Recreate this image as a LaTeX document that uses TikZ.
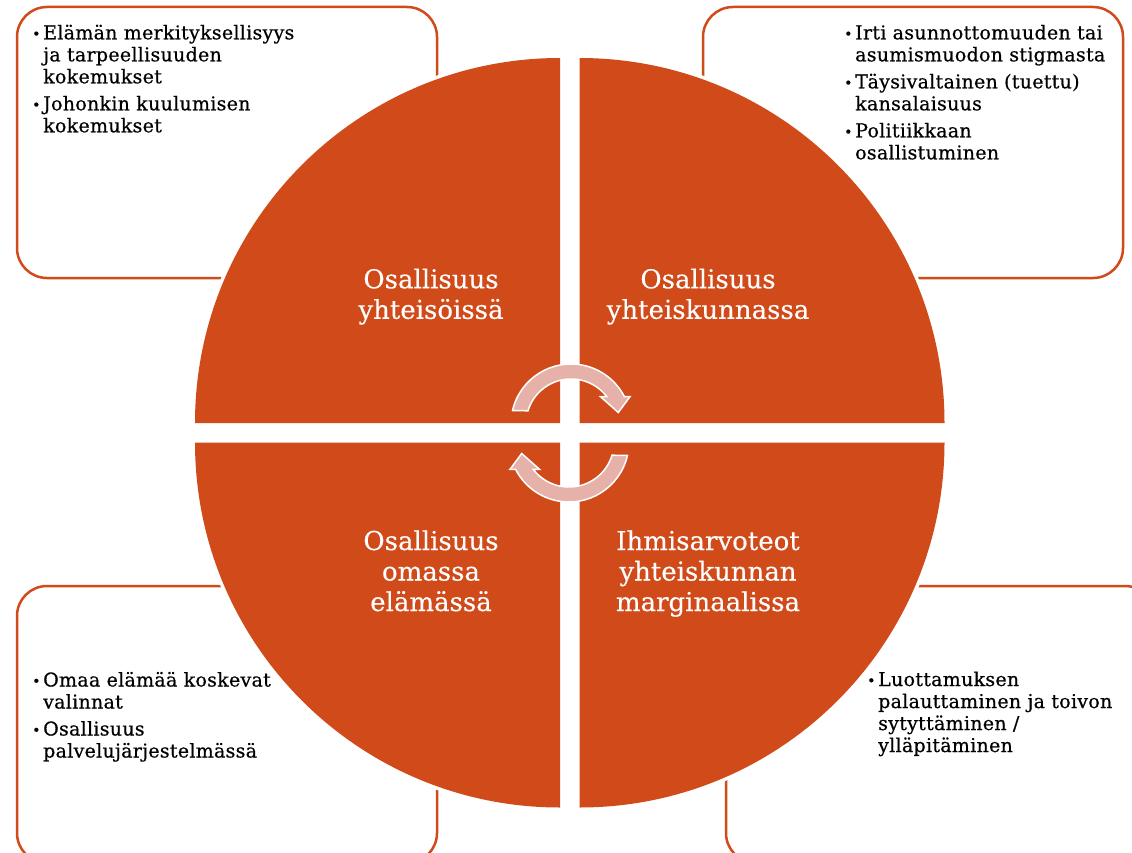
\documentclass[tikz,border=0pt]{standalone}
\usepackage{fontspec}
\setmainfont{DejaVu Serif}[LetterSpace=1.5, FakeBold=0.6]
\newfontfamily\labelfont{DejaVu Serif}[FakeBold=0.3]
\definecolor{quadorange}{HTML}{D14A19}
\definecolor{arrowpink}{HTML}{E6B1A9}
\newcommand{\bul}{\makebox[11pt][l]{\raisebox{0.5pt}{\fontsize{14}{14}\selectfont •}}}
\tikzset{
  infobox/.style={draw=quadorange, line width=2.5pt, rounded corners=30pt},
  quad/.style={fill=quadorange, preaction={draw=white, line width=7pt}},
  infotext/.style={anchor=base west, inner sep=0pt, font=\fontsize{19}{22}\selectfont},
  quadlabel/.style={anchor=base, inner sep=0pt, text=white, font=\labelfont\fontsize{26}{30.5}\selectfont},
  cyclearrow/.style={fill=arrowpink, draw=white, line width=1.5pt}
}
\begin{document}
\begin{tikzpicture}[x=1pt, y=1pt]
\useasboundingbox (0,0) rectangle (1132,-853);

\draw[infobox] (17,-7) rectangle (437,-278);
\draw[infobox] (703,-7) rectangle (1123,-278);
\draw[infobox] (17,-586) rectangle (437,-863);
\draw[infobox] (726,-586) rectangle (1155,-863);

\foreach \cx/\cy/\a in {560/423/90, 579.5/423/0, 560/442.5/180, 579.5/442.5/270}
\fill[quad] (\cx,-\cy) -- ++(\a:365) arc[start angle=\a, delta angle=90, radius=365pt] -- cycle;

\node[quadlabel] (yhteisot) at (431,-288.3) {\begin{tabular}[t]{@{}c@{}}Osallisuus\\yhteisöissä\end{tabular}};
\node[quadlabel] (yhteiskunta) at (708,-288.3) {\begin{tabular}[t]{@{}c@{}}Osallisuus\\yhteiskunnassa\end{tabular}};
\node[quadlabel] (omaelama) at (431,-550) {\begin{tabular}[t]{@{}c@{}}Osallisuus\\omassa\\elämässä\end{tabular}};
\node[quadlabel] (marginaali) at (708,-550) {\begin{tabular}[t]{@{}c@{}}Ihmisarvoteot\\yhteiskunnan\\marginaalissa\end{tabular}};

\node[infotext] (yhteisotext) at (32,-39.3) {\begin{tabular}[t]{@{}l@{}l@{}}
\bul & Elämän merkityksellisyys\\ & ja tarpeellisuuden\\ & kokemukset\\[5pt]
\bul & Johonkin kuulumisen\\ & kokemukset\end{tabular}};
\node[infotext] (yhteiskuntatext) at (844,-39.3) {\begin{tabular}[t]{@{}l@{}l@{}}
\bul & Irti asunnottomuuden tai\\ & asumismuodon stigmasta\\[5pt]
\bul & Täysivaltainen (tuettu)\\ & kansalaisuus\\[5pt]
\bul & Politiikkaan\\ & osallistuminen\end{tabular}};
\node[infotext] (omaelamatext) at (32,-686.5) {\begin{tabular}[t]{@{}l@{}l@{}}
\bul & Omaa elämää koskevat\\ & valinnat\\[5pt]
\bul & Osallisuus\\ & palvelujärjestelmässä\end{tabular}};
\node[infotext] (marginaalitext) at (867,-686) {\begin{tabular}[t]{@{}l@{}l@{}}
\bul & Luottamuksen\\ & palauttaminen ja toivon\\ & sytyttäminen /\\ & ylläpitäminen\end{tabular}};

\foreach \r in {0,180}
\filldraw[cyclearrow, rotate around={\r:(570,-433)}, shift={(571,-424)}]
  (167:60) arc[start angle=167, end angle=27.1, radius=60pt] -- (59,27.3) -- (47.3,11.5)
  -- (29.5,27.3) -- (35.8,27.3) arc[start angle=37.3, end angle=163, radius=45pt] -- cycle;
\end{tikzpicture}
\end{document}
